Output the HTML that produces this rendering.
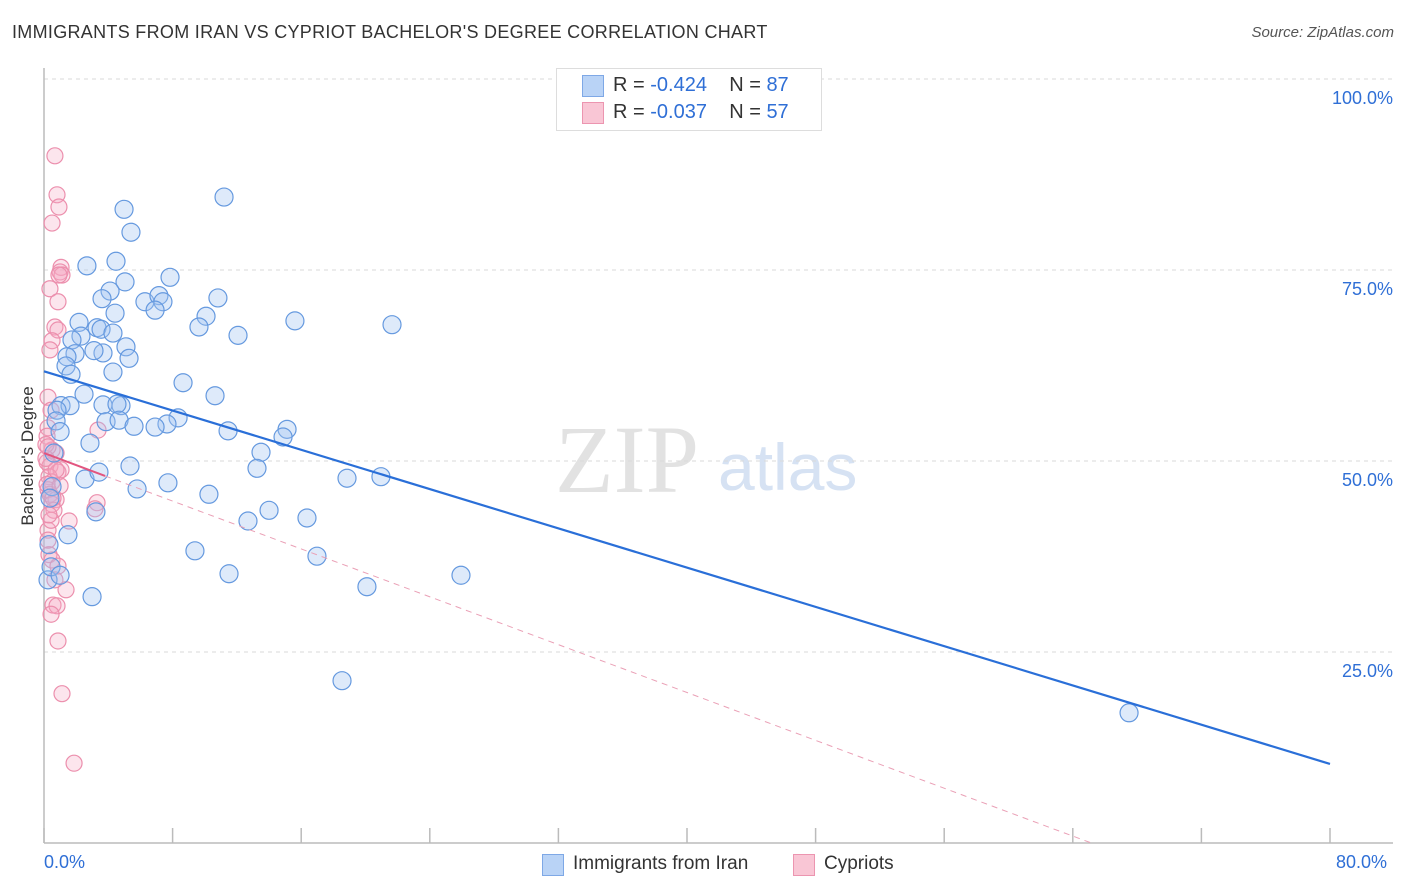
<!DOCTYPE html>
<html><head><meta charset="utf-8">
<style>
body{margin:0;background:#fff;font-family:"Liberation Sans",sans-serif;}
#wrap{position:relative;width:1406px;height:892px;overflow:hidden;}
.t{position:absolute;white-space:nowrap;}
</style></head>
<body>
<div id="wrap">
<div class="t" style="left:12px;top:22px;font-size:18px;color:#333;letter-spacing:0.3px">IMMIGRANTS FROM IRAN VS CYPRIOT BACHELOR'S DEGREE CORRELATION CHART</div>
<div class="t" style="right:12px;top:24px;font-size:15px;color:#555;font-style:italic">Source: ZipAtlas.com</div>
<svg id="svg" width="1406" height="892" style="position:absolute;left:0;top:0">
<text x="555" y="492" font-family="Liberation Serif,serif" font-size="96" fill="#e2e2e2">ZIP</text>
<text x="718" y="490" font-family="Liberation Sans,sans-serif" font-size="66" fill="#d6e2f3">atlas</text>
</svg>
<div style="position:absolute;left:556px;top:68px;width:264px;height:61px;border:1px solid #ddd;background:#fff"></div>
<div style="position:absolute;left:582px;top:75px;width:20px;height:20px;background:#b9d3f6;border:1px solid #7ea8e6"></div>
<div style="position:absolute;left:582px;top:102px;width:20px;height:20px;background:#f9c6d5;border:1px solid #ec95b0"></div>
<div class="t" style="left:613px;top:74px;font-size:20px;color:#333">R = <span style="color:#2f6fd6">-0.424</span>&nbsp;&nbsp;&nbsp;&nbsp;N = <span style="color:#2f6fd6">87</span></div>
<div class="t" style="left:613px;top:101px;font-size:20px;color:#333">R = <span style="color:#2f6fd6">-0.037</span>&nbsp;&nbsp;&nbsp;&nbsp;N = <span style="color:#2f6fd6">57</span></div>
<div class="t" style="left:-42px;top:446px;font-size:17px;color:#333;transform:rotate(-90deg);transform-origin:center;width:140px;text-align:center">Bachelor's Degree</div>
<div class="t" style="left:44px;top:852px;font-size:18px;color:#2f6fd6">0.0%</div>
<div class="t" style="left:1336px;top:852px;font-size:18px;color:#2f6fd6">80.0%</div>
<div style="position:absolute;left:542px;top:854px;width:20px;height:20px;background:#b9d3f6;border:1px solid #7ea8e6"></div>
<div class="t" style="left:573px;top:853px;font-size:19px;color:#333">Immigrants from Iran</div>
<div style="position:absolute;left:793px;top:854px;width:20px;height:20px;background:#f9c6d5;border:1px solid #ec95b0"></div>
<div class="t" style="left:824px;top:853px;font-size:19px;color:#333">Cypriots</div>
</div>
<script>
const yTicks=[100,75,50,25];
const yTickLabels=["100.0%","75.0%","50.0%","25.0%"];
const xTicks=[0,8,16,24,32,40,48,56,64,72,80];
const iranX=[4.98,5.41,11.2,2.67,4.48,7.84,5.04,4.11,3.61,6.28,7.15,7.40,6.91,10.82,4.42,10.08,9.64,15.61,21.65,2.18,3.30,3.55,2.30,4.29,1.74,12.07,5.10,1.93,3.67,3.11,1.43,5.29,1.37,4.29,1.68,8.65,2.49,10.64,3.67,4.79,4.54,1.06,1.62,0.81,0.75,3.86,4.67,8.34,7.65,5.60,6.91,1.00,11.45,15.12,14.87,2.86,0.62,13.50,5.35,13.25,18.85,20.96,7.71,2.55,3.42,5.79,10.26,0.50,14.0,16.36,12.69,3.23,1.49,9.39,16.98,11.51,25.94,20.09,2.99,18.54,67.5,0.31,0.25,0.44,1.0,0.37];
const iranY=[85.3,82.3,86.9,77.9,78.5,76.4,75.8,74.6,73.6,73.2,74.0,73.2,72.1,73.7,71.7,71.3,69.9,70.7,70.2,70.5,69.8,69.6,68.7,69.1,68.2,68.8,67.3,66.4,66.5,66.8,66.0,65.8,64.8,64.0,63.7,62.6,61.1,60.9,59.7,59.6,59.8,59.6,59.6,59.0,57.6,57.5,57.7,58.0,57.2,56.9,56.8,56.2,56.3,56.5,55.5,54.7,53.4,53.5,51.7,51.4,50.1,50.3,49.5,50.0,50.9,48.7,48.0,49.0,45.9,44.9,44.5,45.7,42.7,40.6,39.9,37.6,37.4,35.9,34.6,23.6,19.4,41.4,36.8,38.5,37.4,47.5];
const cypX=[0.68,0.81,0.93,0.50,1.06,1.0,1.12,0.93,0.37,0.87,0.68,0.87,0.50,0.37,0.25,0.44,0.25,0.19,0.50,0.75,0.19,0.37,0.87,1.06,3.36,0.31,0.50,0.25,0.37,0.75,0.50,3.30,0.62,1.56,0.25,0.31,0.50,0.87,1.37,0.56,0.81,0.44,0.87,1.12,1.87,0.12,0.12,3.17,0.56,0.44,0.25,0.75,0.19,0.25,0.68,0.31,1.0];
const cypY=[92.3,87.2,85.6,83.5,77.7,77.1,76.7,76.7,74.9,73.2,69.9,69.5,68.1,66.9,60.7,59.0,56.7,55.6,53.8,53.4,52.2,51.7,50.9,51.2,56.4,50.3,49.6,48.6,48.0,47.3,46.7,46.9,45.9,44.5,43.3,40.1,39.4,38.6,35.5,33.5,33.4,32.3,28.8,21.9,12.8,52.7,54.5,46.1,47.5,44.6,42.0,51.2,49.3,54.2,36.8,45.3,49.1];
const iranTrend=[[0,64.1],[80,12.7]];
const cypTrendSolid=[[0,53.4],[3.8,50.4]];
const cypTrendDash=[[3.8,50.4],[65.1,2.4]];

const svg=document.getElementById('svg');
const NS='http://www.w3.org/2000/svg';
function xs(v){return 44+v*16.075;}
function ys(v){return 861-v*7.64;}
function mk(tag,attrs){const e=document.createElementNS(NS,tag);for(const k in attrs)e.setAttribute(k,attrs[k]);svg.appendChild(e);return e;}

yTicks.forEach((t,i)=>{
  const g=mk('line',{x1:44,x2:1393,y1:ys(t)-18,y2:ys(t)-18,stroke:'#dadada','stroke-dasharray':'4,4','stroke-width':1});
  
  
  const l=mk('text',{x:1393,y:ys(t)+7,'text-anchor':'end','font-size':18,fill:'#2f6fd6','font-family':'Liberation Sans,sans-serif'});
  l.textContent=yTickLabels[i];
  
  
});
const ax=mk('line',{x1:44,x2:44,y1:68,y2:843,stroke:'#bbb','stroke-width':1.5});


const bx=mk('line',{x1:44,x2:1393,y1:843,y2:843,stroke:'#bbb','stroke-width':1.5});


xTicks.forEach(t=>{
  const k=mk('line',{x1:xs(t),x2:xs(t),y1:828,y2:843,stroke:'#bbb','stroke-width':1.5});
  
  
});
cypX.forEach((x,i)=>{
  const c=mk('circle',{cx:xs(x),cy:ys(cypY[i]),r:8,fill:'rgba(246,168,194,0.3)',stroke:'#ec8fad','stroke-width':1.2});
  
  
});
iranX.forEach((x,i)=>{
  const c=mk('circle',{cx:xs(x),cy:ys(iranY[i]),r:9,fill:'rgba(160,196,240,0.35)',stroke:'#6599df','stroke-width':1.2});
  
  
});
const tl=mk('line',{x1:xs(iranTrend[0][0]),y1:ys(iranTrend[0][1]),x2:xs(iranTrend[1][0]),y2:ys(iranTrend[1][1]),stroke:'#2a6fd8','stroke-width':2.2});


const ps=mk('line',{x1:xs(cypTrendSolid[0][0]),y1:ys(cypTrendSolid[0][1]),x2:xs(cypTrendSolid[1][0]),y2:ys(cypTrendSolid[1][1]),stroke:'#e2557f','stroke-width':2});


const pd=mk('line',{x1:xs(cypTrendDash[0][0]),y1:ys(cypTrendDash[0][1]),x2:xs(cypTrendDash[1][0]),y2:ys(cypTrendDash[1][1]),stroke:'#eaa0b6','stroke-width':1,'stroke-dasharray':'6,5'});


</script>
</body></html>
